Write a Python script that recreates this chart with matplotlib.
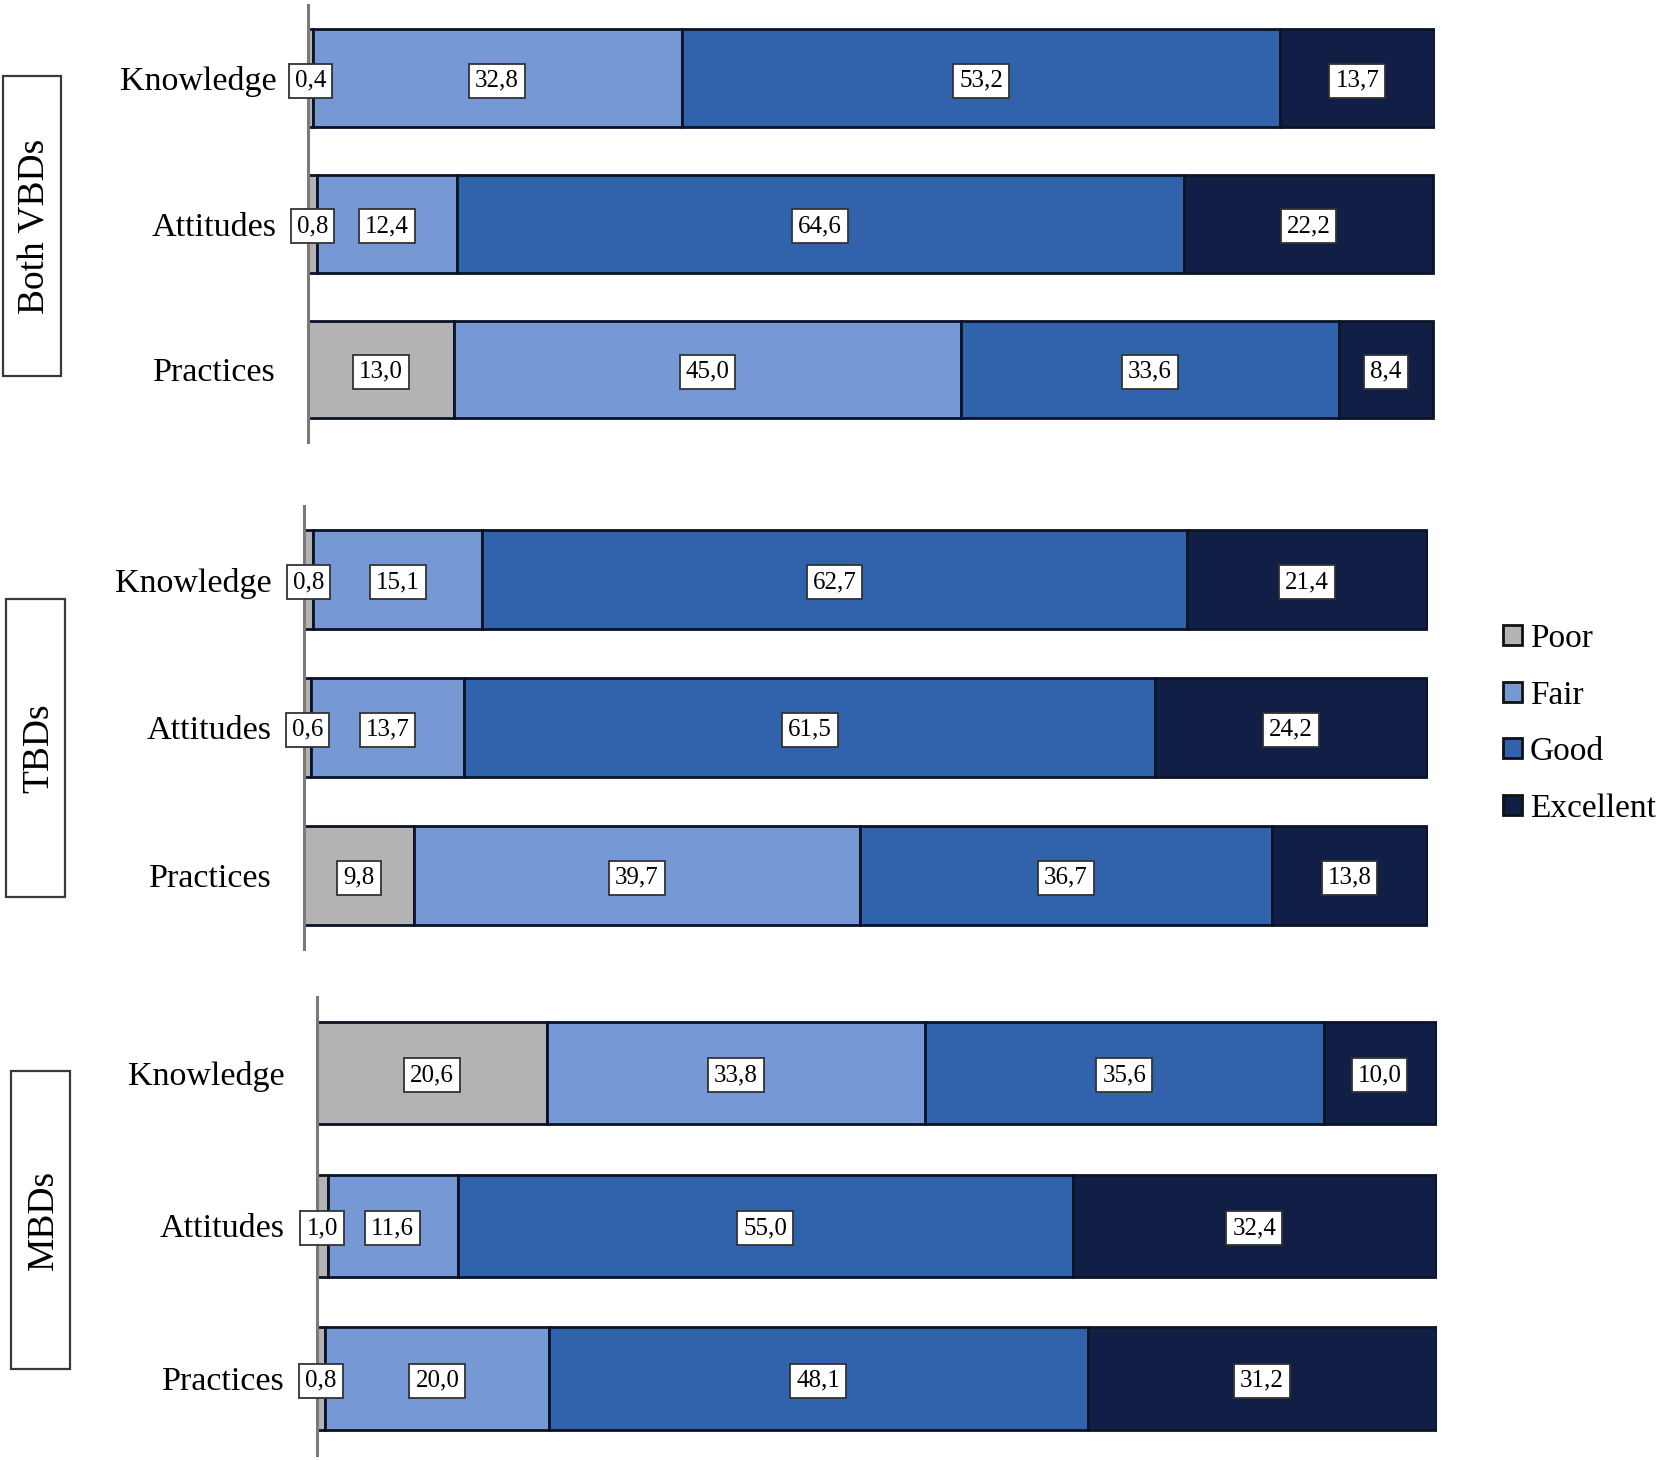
import matplotlib
matplotlib.use("Agg")
import matplotlib.pyplot as plt
from matplotlib.patches import Rectangle, Patch

plt.rcParams['font.family'] = ['Liberation Serif', 'DejaVu Serif']

# ---- data ----
groups = ["Both VBDs", "TBDs", "MBDs"]
items = ["Knowledge", "Attitudes", "Practices"]
levels = ["Poor", "Fair", "Good", "Excellent"]

both_poor = [0.4, 0.8, 13.0]
both_fair = [32.8, 12.4, 45.0]
both_good = [53.2, 64.6, 33.6]
both_exc = [13.7, 22.2, 8.4]

tbd_poor = [0.8, 0.6, 9.8]
tbd_fair = [15.1, 13.7, 39.7]
tbd_good = [62.7, 61.5, 36.7]
tbd_exc = [21.4, 24.2, 13.8]

mbd_poor = [20.6, 1.0, 0.8]
mbd_fair = [33.8, 11.6, 20.0]
mbd_good = [35.6, 55.0, 48.1]
mbd_exc = [10.0, 32.4, 31.2]

panel_data = [
    [both_poor, both_fair, both_good, both_exc],
    [tbd_poor, tbd_fair, tbd_good, tbd_exc],
    [mbd_poor, mbd_fair, mbd_good, mbd_exc],
]

colors = ["#b3b3b3", "#7698d4", "#3162ac", "#111e45"]
edge = "#0b1326"

W, H = 1568.0, 1380.0
# axes positions (display px of reference: left, right, top, bottom)
panel_px = [(291, 1355, 5, 418), (287, 1349, 478, 897), (299, 1357, 942, 1375)]
# group box px: x0, x1, y0, y1
box_px = [(3, 58, 72, 355), (6, 61, 566, 848), (10, 66, 1012, 1294)]

fig = plt.figure(figsize=(16.6, 14.6), dpi=100)

for gi, (l, r, t, b) in enumerate(panel_px):
    ax = fig.add_axes([l / W, 1 - b / H, (r - l) / W, (b - t) / H])
    data = panel_data[gi]
    ypos = list(range(len(items)))
    left = [0.0] * len(items)
    for li, vals in enumerate(data):
        ax.barh(ypos, vals, left=left, height=0.67, color=colors[li],
                edgecolor=edge, linewidth=2.0, zorder=2)
        for yi, v in enumerate(vals):
            c = left[yi] + v / 2.0
            ax.text(c, yi, f"{v:.1f}".replace(".", ","), ha="center", va="center_baseline",
                    fontsize=18, zorder=6, clip_on=False,
                    bbox=dict(boxstyle="square,pad=0.24", fc="white", ec="#333333", lw=1.3))
        left = [a + v for a, v in zip(left, vals)]
    ax.set_xlim(0, 100.1)
    ax.set_ylim(len(items) - 0.5, -0.5)
    ax.set_yticks(ypos)
    ax.set_yticklabels(items, fontsize=24.5)
    ax.set_xticks([])
    ax.tick_params(axis="y", length=0, pad=23)
    for s in ["top", "right", "bottom"]:
        ax.spines[s].set_visible(False)
    ax.spines["left"].set_color("#7a7a7a")
    ax.spines["left"].set_linewidth(2.2)
    ax.spines["left"].set_zorder(4)
    ax.patch.set_alpha(0)

    x0, x1, y0, y1 = box_px[gi]
    fig.patches.append(Rectangle((x0 / W, 1 - y1 / H), (x1 - x0) / W, (y1 - y0) / H,
                                 transform=fig.transFigure, fill=False,
                                 ec="#3a3a3a", lw=1.6))
    fig.text((x0 + x1) / 2 / W + 0.002, 1 - (y0 + y1) / 2 / H, groups[gi], rotation=90,
             ha="center", va="center", fontsize=27)

handles = [Patch(facecolor=c, edgecolor="#111111", linewidth=2.0) for c in colors]
fig.legend(handles, levels, loc="center left", bbox_to_anchor=(1420 / W, 1 - 684 / H),
           frameon=False, fontsize=24, handlelength=0.55, handleheight=0.55,
           handletextpad=0.25, labelspacing=0.78, borderpad=0, borderaxespad=0)

fig.savefig("out.png", dpi=100)
